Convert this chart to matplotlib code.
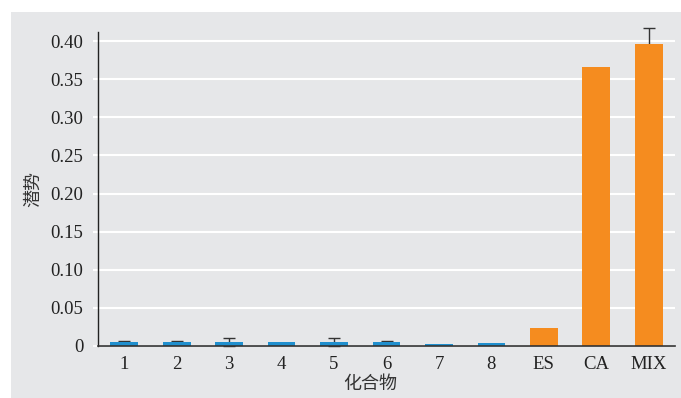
import matplotlib.pyplot as plt
import numpy as np
from matplotlib.patches import Rectangle

plt.rcParams['font.family'] = ['Liberation Serif', 'Noto Sans CJK SC']

compounds = ["1", "2", "3", "4", "5", "6", "7", "8", "ES", "CA", "MIX"]
values = [0.005, 0.005, 0.005, 0.005, 0.005, 0.005, 0.003, 0.004, 0.024, 0.366, 0.396]
errors = [0.001, 0.001, 0.005, 0.0, 0.005, 0.001, 0.0, 0.0, 0.0, 0.0, 0.021]
yticks = [0, 0.05, 0.10, 0.15, 0.20, 0.25, 0.30, 0.35, 0.40]
ytick_labels = ["0", "0.05", "0.10", "0.15", "0.20", "0.25", "0.30", "0.35", "0.40"]

blue = "#1f8fce"
orange = "#f58c1f"
bg = "#e6e7e9"
colors = [blue] * 8 + [orange] * 3

fig = plt.figure(figsize=(6.81, 3.98), dpi=100)
fig.patches.append(Rectangle((11 / 681, 0), 670 / 681, 1 - 12 / 398,
                             transform=fig.transFigure, facecolor=bg,
                             edgecolor="none", zorder=-5))
ax = fig.add_axes([98 / 681, 1 - 346 / 398, 577 / 681, 314 / 398])
ax.set_zorder(2)
ax.set_facecolor(bg)

x = np.arange(len(compounds))
ax.bar(x, values, width=0.53, color=colors, zorder=4)

# error bars behind the bars, so only the upper half shows
vals = np.array(values)
errs = np.array(errors)
m = errs > 0
eb = ax.errorbar(x[m], vals[m], yerr=errs[m], fmt="none",
                 ecolor="#333333", elinewidth=1, capsize=4.5, capthick=1, zorder=3)
for art in eb.get_children():
    art.set_clip_on(False)

ax.set_xlim(-0.5, len(compounds) - 0.5)
ax.set_ylim(0, 0.412)
ax.set_yticks(yticks)
ax.set_yticklabels(ytick_labels)
ax.set_xticks(x)
ax.set_xticklabels(compounds)

ax.grid(axis="y", color="white", linewidth=1.5, zorder=1)
ax.set_axisbelow(True)
for s in ["top", "right"]:
    ax.spines[s].set_visible(False)
ax.spines["left"].set_color("#222222")
ax.spines["bottom"].set_color("#333333")
ax.spines["left"].set_linewidth(1.0)
ax.spines["bottom"].set_linewidth(1.2)
ax.spines["bottom"].set_zorder(5)

ax.tick_params(axis="y", length=3.6, width=1.5, color="white", pad=7,
               labelsize=13.5, labelcolor="#222222")
ax.tick_params(axis="x", length=0, pad=7, labelsize=13.5, labelcolor="#222222")
t0 = ax.yaxis.get_major_ticks()[0]
t0.tick1line.set_color("#333333")
t0.tick1line.set_markeredgewidth(1.2)

ax.set_ylabel("潜势", fontsize=13, color="#333333")
ax.yaxis.set_label_coords(-0.112, 0.5)
ax.set_xlabel("化合物", fontsize=13, color="#333333")
ax.xaxis.set_label_coords(0.471, -0.124)
ax.xaxis.label.set_va("center")
ax.yaxis.label.set_va("center")

fig.savefig("out.png", dpi=100, facecolor="white")
